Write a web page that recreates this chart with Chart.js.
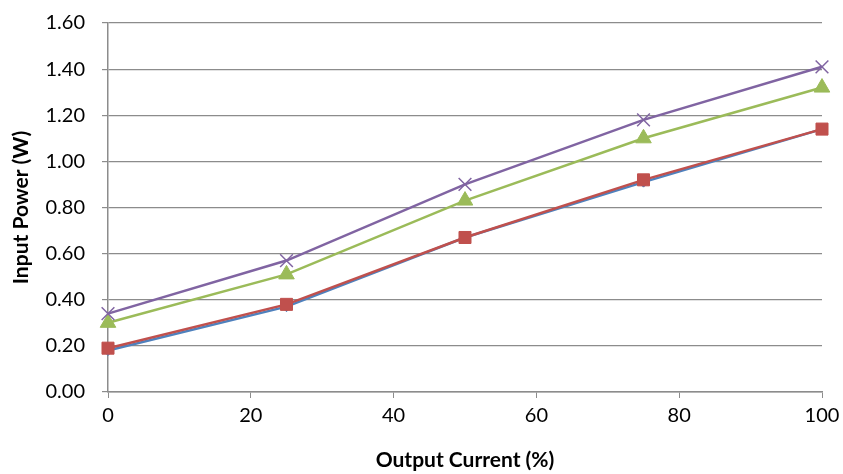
<!DOCTYPE html>
<html lang="en">
<head>
  <meta charset="UTF-8">
  <title>Input Power vs Output Current</title>
  <script src="https://cdn.jsdelivr.net/npm/chart.js"></script>
  <style>
    html, body { margin: 0; padding: 0; background: #fff; }
    #wrap { width: 843px; height: 474px; }
  </style>
</head>
<body>
  <div id="wrap"><canvas id="powerChart" width="843" height="474"></canvas></div>

  <script>
    const outputCurrent = [0, 25, 50, 75, 100];
    const seriesBlue   = [0.18, 0.37, 0.67, 0.91, 1.14];
    const seriesRed    = [0.19, 0.38, 0.67, 0.92, 1.14];
    const seriesGreen  = [0.30, 0.51, 0.83, 1.10, 1.32];
    const seriesPurple = [0.34, 0.57, 0.90, 1.18, 1.41];

    const xTitle = 'Output Current (%)';
    const yTitle = 'Input Power (W)';

    function toPoints(values) {
      return outputCurrent.map((x, i) => ({ x: x, y: values[i] }));
    }

    const fontFamily = 'Lato, "Open Sans", sans-serif';

    const ctx = document.getElementById('powerChart').getContext('2d');
    new Chart(ctx, {
      type: 'line',
      data: {
        datasets: [
          { data: toPoints(seriesBlue), borderColor: '#4F81BD', backgroundColor: '#4F81BD',
            pointStyle: 'rectRot', pointRadius: 5, order: 4, clip: false },
          { data: toPoints(seriesRed), borderColor: '#C0504D', backgroundColor: '#C0504D',
            pointStyle: 'rect', pointRadius: 8.5, order: 3, clip: false },
          { data: toPoints(seriesGreen), borderColor: '#9BBB59', backgroundColor: '#9BBB59',
            pointStyle: 'triangle', pointRadius: 9, order: 2, clip: false },
          { data: toPoints(seriesPurple), borderColor: '#8064A2', backgroundColor: '#8064A2',
            pointStyle: 'crossRot', pointRadius: 9, pointBorderWidth: 1.5, order: 1, clip: false }
        ]
      },
      options: {
        responsive: false,
        animation: false,
        layout: { padding: { top: 23, right: 21, left: 9, bottom: 0 } },
        elements: { line: { borderWidth: 2.5, tension: 0 } },
        plugins: { legend: { display: false }, tooltip: { enabled: false } },
        scales: {
          x: {
            type: 'linear',
            min: 0, max: 100,
            ticks: { stepSize: 20, color: '#000', padding: 6, font: { family: fontFamily, size: 20 } },
            grid: { drawOnChartArea: false, drawTicks: true, tickLength: 6, color: '#8c8c8c' },
            border: { color: '#8c8c8c', width: 1.5 },
            title: { display: true, text: xTitle, color: '#000', padding: { top: 14, bottom: 1 },
              font: { family: fontFamily, size: 21, weight: 'bold' } },
            afterFit: scale => {
              scale.height = 82;
              scale.paddingLeft = 0;
              scale.paddingRight = 0;
            }
          },
          y: {
            min: 0, max: 1.6,
            ticks: { stepSize: 0.2, color: '#000', padding: 17,
              font: { family: fontFamily, size: 20 },
              callback: v => v.toFixed(2) },
            grid: { color: '#8c8c8c', lineWidth: 1.2, tickLength: 6 },
            border: { color: '#8c8c8c', width: 1.5 },
            title: { display: true, text: yTitle, color: '#000', padding: { top: 0, bottom: 0 },
              font: { family: fontFamily, size: 21, weight: 'bold' } },
            afterFit: scale => {
              scale.width = 99;
              scale.paddingTop = 0;
              scale.paddingBottom = 0;
            }
          }
        }
      }
    });
  </script>
</body>
</html>
